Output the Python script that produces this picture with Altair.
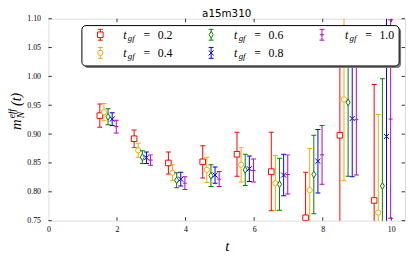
import altair as alt
import pandas as pd

# ---------------- data ----------------
t_vals = [1, 2, 3, 4, 5, 6, 7, 8, 9]
tgf_labels = ["0.2", "0.4", "0.6", "0.8", "1.0"]

m_02 = [0.932, 0.892, 0.850, 0.852, 0.865, 0.835, 0.755, 0.898, 0.785]
e_02 = [0.020, 0.015, 0.019, 0.028, 0.038, 0.068, 0.079, 0.165, 0.201]
m_04 = [0.938, 0.872, 0.833, 0.838, 0.847, 0.815, 0.803, 0.960, 0.764]
e_04 = [0.015, 0.012, 0.014, 0.022, 0.030, 0.048, 0.072, 0.141, 0.170]
m_06 = [0.930, 0.860, 0.820, 0.828, 0.838, 0.813, 0.830, 0.955, 0.810]
e_06 = [0.014, 0.011, 0.013, 0.019, 0.027, 0.045, 0.068, 0.128, 0.186]
m_08 = [0.926, 0.859, 0.822, 0.829, 0.840, 0.829, 0.853, 0.927, 0.896]
e_08 = [0.011, 0.010, 0.012, 0.014, 0.022, 0.036, 0.055, 0.101, 0.260]
m_10 = [0.913, 0.855, 0.815, 0.822, 0.837, 0.830, 0.864, 0.925, 0.926]
e_10 = [0.011, 0.009, 0.011, 0.013, 0.020, 0.034, 0.051, 0.096, 0.172]

x_tick_vals = [0, 2, 4, 6, 8, 10]
y_tick_vals = [0.75, 0.80, 0.85, 0.90, 0.95, 1.00, 1.05, 1.10]
title_text = "a15m310"

means = [m_02, m_04, m_06, m_08, m_10]
errs = [e_02, e_04, e_06, e_08, e_10]

# ---------------- styles ----------------
colors = ["#ff0000", "#ffa500", "#008000", "#0000ff", "#bf00bf"]
dodge = [0.50, 0.62, 0.74, 0.86, 0.98]
DIAMOND = "M0,-1L0.6,0L0,1L-0.6,0Z"
XMARK = "M-1,-1L1,1M-1,1L1,-1"
marker_styles = [
    dict(shape="square", size=32, filled=True, fill="white"),
    dict(shape="circle", size=28, filled=True, fill="white"),
    dict(shape=DIAMOND, size=48, filled=True, fill="white"),
    dict(shape=XMARK, size=26, filled=False),
    dict(shape="stroke", size=18, filled=False),
]

W, H = 362, 205
SERIF = "Liberation Serif"
FRAME = "#333333"

xscale = alt.Scale(domain=[0, 10.4], nice=False, zero=False)
yscale = alt.Scale(domain=[0.75, 1.10], nice=False, zero=False)
xax = alt.Axis(values=x_tick_vals, format="d", ticks=False, domain=False, grid=False,
               labelFont=SERIF, labelFontSize=8, labelColor="black", labelPadding=5,
               labelFlush=False, labelOverlap=False,
               title="t", titleFont=SERIF, titleFontStyle="italic", titleFontSize=15,
               titleFontWeight="normal", titleColor="black", titlePadding=5)
yax = alt.Axis(values=y_tick_vals, format=".2f", ticks=False, domain=False, grid=False,
               labelFont=SERIF, labelFontSize=8, labelColor="black", labelPadding=8,
               labelFlush=False, labelOverlap=False, title=None)

X = alt.X("x:Q", scale=xscale, axis=xax)

layers = []
one = pd.DataFrame({"k": [0]})

# ---------------- inner ticks ----------------
xt = pd.DataFrame({"x": x_tick_vals[1:]})
yt = pd.DataFrame({"y": y_tick_vals})
TL = 3.5
layers.append(alt.Chart(xt).mark_rule(color=FRAME, strokeWidth=1).encode(
    x=X, y=alt.value(H), y2=alt.value(H - TL)))
layers.append(alt.Chart(xt).mark_rule(color=FRAME, strokeWidth=1).encode(
    x=X, y=alt.value(0), y2=alt.value(TL)))
layers.append(alt.Chart(yt).mark_rule(color=FRAME, strokeWidth=1).encode(
    y=alt.Y("y:Q", scale=yscale, axis=yax), x=alt.value(0), x2=alt.value(TL)))
layers.append(alt.Chart(yt).mark_rule(color=FRAME, strokeWidth=1).encode(
    y=alt.Y("y:Q", scale=yscale, axis=yax), x=alt.value(W), x2=alt.value(W - TL)))

# ---------------- error bar series ----------------
for i in range(5):
    c = colors[i]
    df = pd.DataFrame({"x": [t + dodge[i] for t in t_vals], "y": means[i], "e": errs[i]})
    base = alt.Chart(df).transform_calculate(lo="datum.y - datum.e", hi="datum.y + datum.e")
    layers.append(base.mark_rule(color=c, strokeWidth=1, clip=True).encode(
        x=X, y=alt.Y("lo:Q", scale=yscale, axis=yax), y2="hi:Q"))
    for fld in ["lo", "hi"]:
        layers.append(base.mark_tick(orient="horizontal", size=5, thickness=1, color=c,
                                     clip=True, opacity=1).encode(
            x=X, y=alt.Y(fld + ":Q", scale=yscale, axis=yax)))
    ms = marker_styles[i]
    kw = dict(shape=ms["shape"], size=ms["size"], filled=ms["filled"], stroke=c,
              strokeWidth=1, opacity=1, clip=True)
    if ms["filled"]:
        kw["fill"] = ms["fill"]
    layers.append(base.mark_point(**kw).encode(
        x=X, y=alt.Y("y:Q", scale=yscale, axis=yax)))

# ---------------- legend (drawn box) ----------------
LX0, LX1, LY0, LY1 = 34, 356, 7, 48
layers.append(alt.Chart(one).mark_rect(cornerRadius=4, fill="#7a7a7a").encode(
    x=alt.value(LX0 + 2), x2=alt.value(LX1 + 2), y=alt.value(LY0 + 2), y2=alt.value(LY1 + 2)))
layers.append(alt.Chart(one).mark_rect(cornerRadius=4, fill="white", stroke="black",
                                       strokeWidth=1).encode(
    x=alt.value(LX0), x2=alt.value(LX1), y=alt.value(LY0), y2=alt.value(LY1)))

col_x = [52.7, 165.2, 277.7]
row_y = [16.3, 34.7]
for i in range(5):
    c = colors[i]
    col, row = i // 2, i % 2
    px, py = col_x[col], row_y[row]
    layers.append(alt.Chart(one).mark_rule(color=c, strokeWidth=1).encode(
        x=alt.value(px), y=alt.value(py - 5.5), y2=alt.value(py + 5.5)))
    for dy in (-5.5, 5.5):
        layers.append(alt.Chart(one).mark_rule(color=c, strokeWidth=1).encode(
            x=alt.value(px - 2.5), x2=alt.value(px + 2.5), y=alt.value(py + dy)))
    ms = marker_styles[i]
    kw = dict(shape=ms["shape"], size=ms["size"], filled=ms["filled"], stroke=c,
              strokeWidth=1, opacity=1)
    if ms["filled"]:
        kw["fill"] = ms["fill"]
    layers.append(alt.Chart(one).mark_point(**kw).encode(x=alt.value(px), y=alt.value(py)))
    tx = px + 23.3
    base_y = py + 4.2
    layers.append(alt.Chart(one).mark_text(text="t", font=SERIF, fontStyle="italic",
                                           fontSize=12, align="left", baseline="alphabetic",
                                           color="black").encode(
        x=alt.value(tx), y=alt.value(base_y)))
    layers.append(alt.Chart(one).mark_text(text="gf", font=SERIF, fontStyle="italic",
                                           fontSize=9, align="left", baseline="alphabetic",
                                           color="black").encode(
        x=alt.value(tx + 4.6), y=alt.value(base_y + 2.5)))
    layers.append(alt.Chart(one).mark_text(text="=", font=SERIF, fontSize=12, align="left",
                                           baseline="alphabetic", color="black").encode(
        x=alt.value(tx + 20.5), y=alt.value(base_y)))
    layers.append(alt.Chart(one).mark_text(text=tgf_labels[i], font=SERIF, fontSize=12,
                                           align="left", baseline="alphabetic",
                                           color="black").encode(
        x=alt.value(tx + 35), y=alt.value(base_y)))

# ---------------- title ----------------
layers.append(alt.Chart(one).mark_text(text=title_text, font="DejaVu Sans", fontSize=10.5,
                                       align="center", baseline="alphabetic",
                                       color="black").encode(
    x=alt.value(W / 2), y=alt.value(-1.6)))

# ---------------- y-axis label  m_N^{eff}(t) ----------------
def ylab(txt, x, y, size, align):
    return alt.Chart(one).mark_text(text=txt, font=SERIF, fontStyle="italic", fontSize=size,
                                    angle=270, align=align, baseline="alphabetic",
                                    color="black").encode(x=alt.value(x), y=alt.value(y))

layers.append(ylab("m", -28, 113, 15, "left"))
layers.append(ylab("N", -24.5, 101, 10, "left"))
layers.append(ylab("eff", -33.5, 101, 9.5, "left"))
layers.append(ylab("(t)", -28, 88.5, 14, "left"))

chart = alt.layer(*layers).properties(
    width=W, height=H,
    autosize=alt.AutoSizeParams(type="none"),
    padding={"left": 41, "top": 9, "right": 2, "bottom": 32},
).configure_view(stroke=FRAME, strokeWidth=1.2).configure(background="white")

chart.save("out.html", embed_options={"renderer": "svg", "actions": False})
